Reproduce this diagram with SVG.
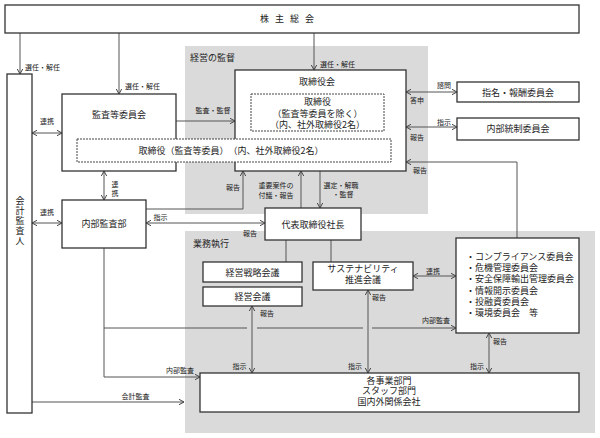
<svg xmlns="http://www.w3.org/2000/svg" width="600" height="438" viewBox="0 0 600 438">
<style>
text{font-family:"Noto Sans CJK JP","Noto Sans",sans-serif;fill:#222}
.t{font-size:9px}
.l{font-size:7px}
.m{text-anchor:middle}
.box{fill:#fff;stroke:#333;stroke-width:1.3}
.dash{fill:#fff;stroke:#444;stroke-width:1;stroke-dasharray:2,1}
.zone{fill:#dadada}
.c line,.c path,.c polyline{stroke:#555;stroke-width:1;fill:none}
</style>
<defs>
<marker id="a" viewBox="0 0 6 6" refX="5.5" refY="3" markerWidth="6" markerHeight="6" markerUnits="userSpaceOnUse" orient="auto-start-reverse">
<path d="M0.5,0.3 L5.5,3 L0.5,5.7" fill="none" stroke="#444" stroke-width="1"/>
</marker>
</defs>
<rect width="600" height="438" fill="#fff"/>
<g id="zone-supervision"><rect class="zone" x="185" y="46" width="243" height="168"/><text class="t" x="190" y="61">経営の監督</text></g>
<g id="zone-execution"><rect class="zone" x="185" y="231" width="410" height="202"/><text class="t" x="193" y="247">業務執行</text></g>

<g class="c" id="connectors">
<line x1="20" y1="33" x2="20" y2="74" marker-end="url(#a)"/>
<line x1="119" y1="33" x2="119" y2="94" marker-end="url(#a)"/>
<line x1="314" y1="33" x2="314" y2="70" marker-end="url(#a)"/>
<line x1="176" y1="121" x2="235" y2="121" marker-end="url(#a)"/>
<line x1="32" y1="133" x2="62" y2="133" marker-start="url(#a)" marker-end="url(#a)"/>
<line x1="104" y1="171" x2="104" y2="200" marker-start="url(#a)" marker-end="url(#a)"/>
<line x1="32" y1="223" x2="62" y2="223" marker-start="url(#a)" marker-end="url(#a)"/>
<line x1="146" y1="223" x2="265" y2="223" marker-start="url(#a)" marker-end="url(#a)"/>
<polyline points="146,209 243,209 243,171" marker-end="url(#a)"/>
<line x1="301" y1="208" x2="301" y2="171" marker-end="url(#a)"/>
<line x1="320" y1="171" x2="320" y2="208" marker-end="url(#a)"/>
<line x1="406" y1="92" x2="457" y2="92" marker-start="url(#a)" marker-end="url(#a)"/>
<line x1="406" y1="127" x2="457" y2="127" marker-start="url(#a)" marker-end="url(#a)"/>
<polyline points="517,238 517,162 406,162" marker-end="url(#a)"/>
<line x1="286" y1="240" x2="286" y2="262"/>
<line x1="331" y1="240" x2="331" y2="262"/>
<line x1="413" y1="276" x2="456" y2="276" marker-start="url(#a)" marker-end="url(#a)"/>
<polyline points="104,248 104,377 200,377" marker-end="url(#a)"/>
<path d="M104,328 H247 M257,328 H363 M372,328 H456" marker-end="url(#a)"/>
<line x1="252" y1="306" x2="252" y2="373" marker-start="url(#a)" marker-end="url(#a)"/>
<line x1="368" y1="290" x2="368" y2="373" marker-start="url(#a)" marker-end="url(#a)"/>
<line x1="489" y1="333" x2="489" y2="373" marker-start="url(#a)" marker-end="url(#a)"/>
<line x1="32" y1="402" x2="184" y2="402" marker-end="url(#a)"/>
</g>

<g id="labels">
<text class="l" x="25" y="70">選任・解任</text>
<text class="l" x="125" y="88.5">選任・解任</text>
<text class="l" x="320" y="67">選任・解任</text>
<text class="l m" x="213" y="112.5">監査・監督</text>
<text class="l m" x="47" y="123.5">連携</text>
<text class="l m" x="115" y="189.5" style="writing-mode:vertical-rl" letter-spacing="2">連携</text>
<text class="l m" x="47" y="214.5">連携</text>
<text class="l m" x="160.5" y="220">指示</text>
<text class="l m" x="250" y="235.5">報告</text>
<text class="l m" x="233" y="190">報告</text>
<text class="l m"><tspan x="276" y="188">重要案件の</tspan><tspan x="276" y="197.5">付議・報告</tspan></text>
<text class="l m"><tspan x="341" y="187.5">選定・解職</tspan><tspan x="343" y="197">・監督</tspan></text>
<text class="l m" x="444" y="87.5">諮問</text>
<text class="l m" x="417" y="102.5">答申</text>
<text class="l m" x="444" y="125">指示</text>
<text class="l m" x="417" y="140">報告</text>
<text class="l m" x="420" y="172.5">報告</text>
<text class="l m" x="433" y="274">連携</text>
<text class="l m" x="267" y="316">報告</text>
<text class="l m" x="379" y="300">報告</text>
<text class="l m" x="436" y="322.5">内部監査</text>
<text class="l m" x="500" y="344">報告</text>
<text class="l m" x="239.5" y="368.5">指示</text>
<text class="l m" x="355" y="368.5">指示</text>
<text class="l m" x="477" y="368.5">指示</text>
<text class="l m" x="180" y="372.5">内部監査</text>
<text class="l m" x="135.5" y="398.5">会計監査</text>
</g>

<g id="shareholders"><rect class="box" x="5" y="5" width="574" height="28"/><text class="t" x="260" y="22" letter-spacing="6">株主総会</text></g>
<g id="auditor"><rect class="box" x="7" y="74" width="25" height="339"/>
<text class="t m" x="20" y="221" style="writing-mode:vertical-rl" letter-spacing="1">会計監査人</text></g>
<g id="audit-committee"><rect class="box" x="62" y="94" width="114" height="77"/><text class="t m" x="119" y="118">監査等委員会</text></g>
<g id="board"><rect class="box" x="235" y="70" width="171" height="101"/><text class="t m" x="317" y="85">取締役会</text></g>
<g id="directors"><rect class="dash" x="251" y="94" width="133" height="37"/>
<text class="t m"><tspan x="317.5" y="104.5">取締役</tspan><tspan x="317.5" y="116.5">（監査等委員を除く）</tspan><tspan x="317.5" y="128">（内、社外取締役2名）</tspan></text></g>
<g id="audit-directors"><rect class="dash" x="77" y="139" width="314" height="23"/><text class="t m" x="231" y="153.5">取締役（監査等委員）　（内、社外取締役2名）</text></g>
<g id="internal-audit"><rect class="box" x="62" y="200" width="84" height="48"/><text class="t m" x="104" y="227">内部監査部</text></g>
<g id="president"><rect class="box" x="265" y="208" width="96" height="32"/><text class="t m" x="313" y="227.5">代表取締役社長</text></g>
<g id="strategy"><rect class="box" x="203" y="262" width="99" height="20"/><text class="t m" x="252.5" y="275.5">経営戦略会議</text></g>
<g id="mgmt"><rect class="box" x="203" y="287" width="99" height="19"/><text class="t m" x="252.5" y="299.5">経営会議</text></g>
<g id="sustain"><rect class="box" x="313" y="262" width="100" height="28"/><text class="t m"><tspan x="363" y="271.5">サステナビリティ</tspan><tspan x="363" y="283">推進会議</tspan></text></g>
<g id="nomination"><rect class="box" x="457" y="82" width="122" height="20"/><text class="t m" x="518" y="95.5">指名・報酬委員会</text></g>
<g id="internal-control"><rect class="box" x="457" y="118" width="122" height="22"/><text class="t m" x="518" y="132">内部統制委員会</text></g>
<g id="committees"><rect class="box" x="456" y="238" width="123" height="95"/>
<text class="t"><tspan x="466" y="260">・コンプライアンス委員会</tspan><tspan x="466" y="271.2">・危機管理委員会</tspan><tspan x="466" y="282.4">・安全保障輸出管理委員会</tspan><tspan x="466" y="293.6">・情報開示委員会</tspan><tspan x="466" y="304.8">・投融資委員会</tspan><tspan x="466" y="316">・環境委員会　等</tspan></text></g>
<g id="divisions"><rect class="box" x="200" y="373" width="379" height="39"/>
<text class="t m"><tspan x="389" y="383.5">各事業部門</tspan><tspan x="389" y="394">スタッフ部門</tspan><tspan x="389" y="404.5">国内外関係会社</tspan></text></g>
</svg>
